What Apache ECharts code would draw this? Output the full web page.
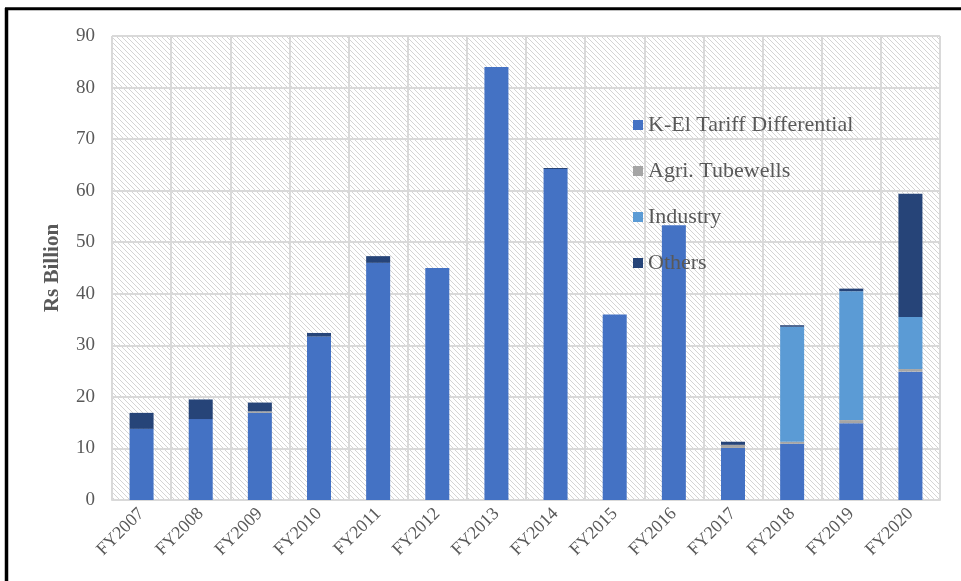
<!DOCTYPE html>
<html>
<head>
<meta charset="utf-8">
<script src="https://cdn.jsdelivr.net/npm/echarts@6/dist/echarts.min.js"></script>
<style>
html,body{margin:0;padding:0;background:#fff;}
#chart{width:961px;height:581px;}
</style>
</head>
<body>
<div id="chart"></div>
<script>
const categories = ['FY2007','FY2008','FY2009','FY2010','FY2011','FY2012','FY2013','FY2014','FY2015','FY2016','FY2017','FY2018','FY2019','FY2020'];
const keTariff = [13.8, 15.7, 16.9, 31.7, 46.0, 45.0, 84.0, 64.2, 36.0, 53.3, 10.1, 10.9, 14.9, 24.9];
const agriTubewells = [0, 0, 0.3, 0, 0, 0, 0, 0, 0, 0, 0.6, 0.4, 0.6, 0.5];
const industry = [0, 0, 0, 0, 0, 0, 0, 0, 0, 0, 0, 22.3, 25.0, 10.1];
const others = [3.1, 3.8, 1.7, 0.7, 1.3, 0, 0, 0.2, 0, 0, 0.6, 0.3, 0.5, 23.9];
const seriesNames = ['K-El Tariff Differential', 'Agri. Tubewells', 'Industry', 'Others'];
const seriesColors = ['#4472C4', '#A5A5A5', '#5B9BD5', '#264478'];

// hatch pattern
const pc = document.createElement('canvas');
pc.width = 5; pc.height = 5;
const ctx = pc.getContext('2d');
ctx.fillStyle = '#ffffff';
ctx.fillRect(0, 0, 5, 5);
ctx.strokeStyle = '#d4d4d4';
ctx.lineWidth = 1;
ctx.beginPath();
ctx.moveTo(-1, -1); ctx.lineTo(6, 6);
ctx.moveTo(-1, 4); ctx.lineTo(1, 6);
ctx.moveTo(4, -1); ctx.lineTo(6, 1);
ctx.stroke();

const chart = echarts.init(document.getElementById('chart'), null, {renderer: 'canvas'});
const font = 'Liberation Serif';
const dataSets = [keTariff, agriTubewells, industry, others];

chart.setOption({
  animation: false,
  backgroundColor: '#ffffff',
  textStyle: {fontFamily: font},
  grid: {
    left: 112, right: 21, top: 36, bottom: 81,
    show: true,
    borderWidth: 0,
    backgroundColor: {image: pc, repeat: 'repeat'}
  },
  legend: {
    orient: 'vertical',
    left: 628, top: 109,
    itemWidth: 10, itemHeight: 10,
    itemGap: 24,
    icon: 'rect',
    textStyle: {fontFamily: font, fontSize: 22, color: '#595959'},
    data: seriesNames
  },
  xAxis: {
    type: 'category',
    data: categories,
    axisLine: {show: true, lineStyle: {color: '#d9d9d9', width: 2}},
    axisTick: {show: false},
    splitLine: {show: true, interval: 0, lineStyle: {color: '#d9d9d9', width: 2}},
    axisLabel: {
      interval: 0, rotate: 45, margin: 11,
      fontFamily: font, fontSize: 18, color: '#595959'
    }
  },
  yAxis: {
    type: 'value',
    min: 0, max: 90, interval: 10,
    name: 'Rs Billion',
    nameLocation: 'middle',
    nameGap: 49,
    nameTextStyle: {fontFamily: font, fontSize: 21, fontWeight: 'bold', color: '#595959'},
    axisLine: {show: false},
    axisTick: {show: false},
    splitLine: {show: true, lineStyle: {color: '#d9d9d9', width: 2}},
    axisLabel: {margin: 17, fontFamily: font, fontSize: 19, color: '#595959'}
  },
  series: seriesNames.map((n, i) => ({
    name: n,
    type: 'bar',
    stack: 'total',
    barWidth: 24,
    itemStyle: {color: seriesColors[i]},
    data: dataSets[i]
  })),
  graphic: [
    {type: 'line', shape: {x1: 6.5, y1: 8, x2: 6.5, y2: 581}, style: {stroke: '#000', lineWidth: 3.5}, z: 100},
    {type: 'line', shape: {x1: 5, y1: 8.8, x2: 961, y2: 8.8}, style: {stroke: '#000', lineWidth: 3}, z: 100}
  ]
});
</script>
</body>
</html>
